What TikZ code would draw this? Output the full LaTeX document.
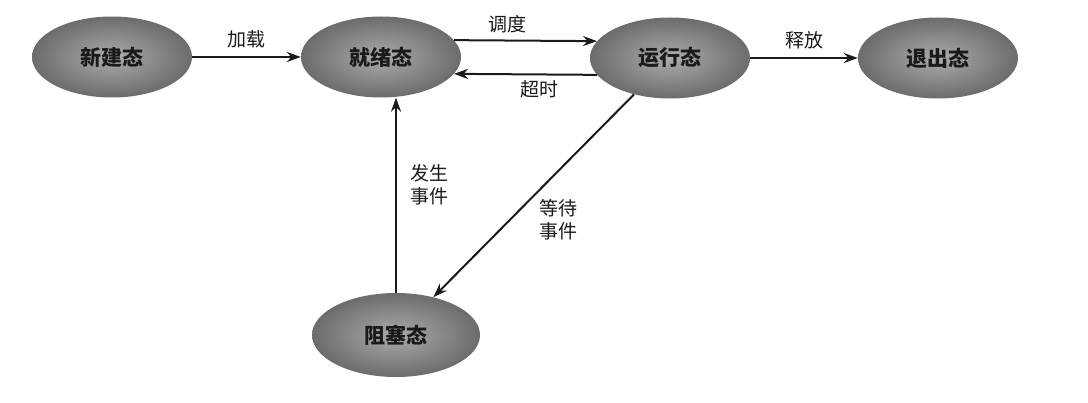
\documentclass[tikz,border=0pt]{standalone}
\usepackage{fontspec}
\newfontfamily\cjk{Noto Sans CJK SC}
\usetikzlibrary{arrows.meta,positioning,shapes.geometric}
\definecolor{stink}  {HTML}{1A1A1A}
\definecolor{stdark} {HTML}{6C6C6C}
\definecolor{stlight}{HTML}{ABABAB}
\tikzset{
  stnode/.style={ellipse, inner sep=0pt, minimum width=160pt, minimum height=81pt,
                 inner color=stlight, outer color=stdark, text=stink,
                 font=\cjk\fontsize{21}{24}\selectfont\bfseries},
  stedge/.style={-{Stealth[length=14pt,width=10pt]}, draw=stink, line width=2pt},
  stlabel/.style={font=\cjk\fontsize{19}{23}\selectfont, text=stink, align=left},
}

\begin{document}
\begin{tikzpicture}[x=1pt,y=1pt]
  \useasboundingbox (0,0) rectangle (1088,402);
  \node[stnode] (new)   at (112,345) {新建态};
  \node[stnode] (ready) at (381,345) {就绪态};
  \node[stnode] (run)   at (670,344) {运行态};
  \node[stnode] (exit)  at (938,344) {退出态};
  \node[stnode, minimum width=168pt, minimum height=84pt] (block) at (396,67) {阻塞态};
  \draw[stedge] (new) -- node[stlabel, above=5pt] {加载} (ready);
  \draw[stedge] (ready.13) -- node[stlabel, above=3pt, xshift=-18pt] {调度} (run.167);
  \draw[stedge] (run.193) -- node[stlabel, below=2pt, xshift=14pt] {超时} (ready.-13);
  \draw[stedge] (run) -- node[stlabel, above=5pt] {释放} (exit);
  \draw[stedge] (block.north) -- node[stlabel, right=10pt, yshift=10pt] {发生\\事件} (block.north |- ready.south);
  \draw[stedge] (run) -- node[stlabel, pos=0.62, right=26pt] {等待\\事件} (block);
\end{tikzpicture}
\end{document}
